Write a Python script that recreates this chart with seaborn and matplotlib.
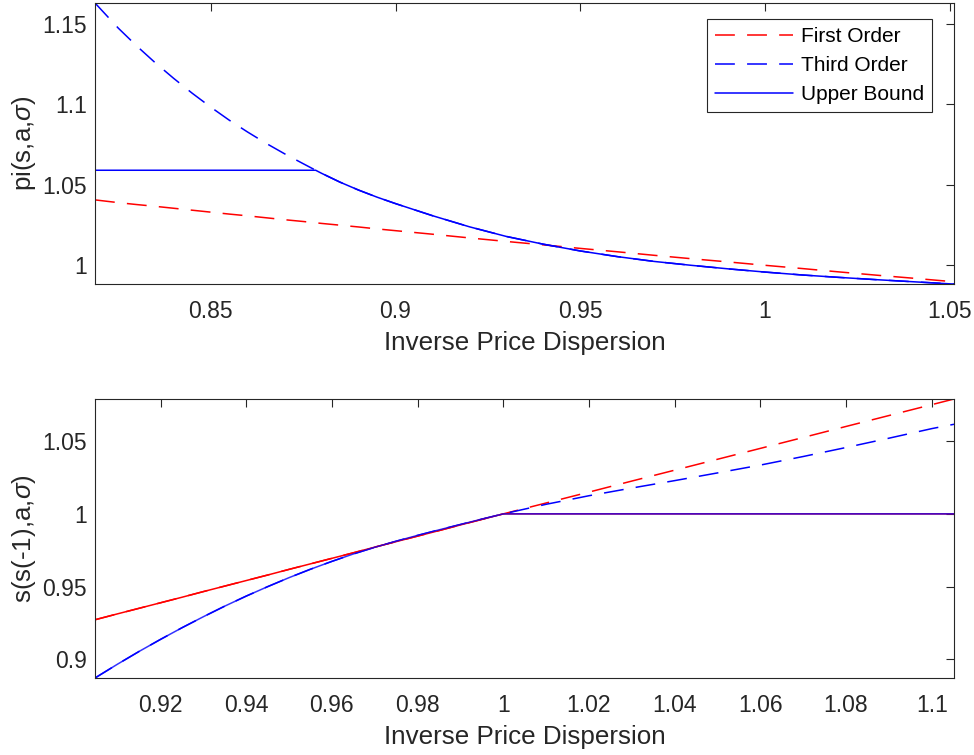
import matplotlib
matplotlib.use("Agg")
import matplotlib.pyplot as plt
import seaborn as sns
import numpy as np

# ---------------- data ----------------
top_x = [0.8187, 0.825, 0.83, 0.835, 0.84, 0.845, 0.85, 0.855, 0.86, 0.865,
         0.87, 0.875, 0.8784, 0.88, 0.885, 0.89, 0.895, 0.90, 0.91, 0.92,
         0.93, 0.94, 0.95, 0.96, 0.97, 0.98, 0.99, 1.00, 1.01, 1.02,
         1.03, 1.04, 1.05, 1.0511]
top_first = [1.0406, 1.0389, 1.0377, 1.0366, 1.0354, 1.0342, 1.0330, 1.0318, 1.0307, 1.0295,
             1.0283, 1.0272, 1.0264, 1.0260, 1.0249, 1.0238, 1.0226, 1.0215, 1.0193, 1.0170,
             1.0148, 1.0127, 1.0105, 1.0084, 1.0062, 1.0041, 1.0021, 1.0000, 0.9980, 0.9959,
             0.9939, 0.9920, 0.9900, 0.9898]
top_third = [1.1628, 1.1472, 1.1361, 1.1257, 1.1160, 1.1068, 1.0982, 1.0901, 1.0827, 1.0757,
             1.0692, 1.0631, 1.0590, 1.0571, 1.0516, 1.0467, 1.0423, 1.0383, 1.0308, 1.0239,
             1.0179, 1.0131, 1.0089, 1.0054, 1.0024, 1.0000, 0.9978, 0.9958, 0.9940, 0.9925,
             0.9911, 0.9898, 0.9885, 0.9884]
top_upper = [1.0590, 1.0590, 1.0590, 1.0590, 1.0590, 1.0590, 1.0590, 1.0590, 1.0590, 1.0590,
             1.0590, 1.0590, 1.0590, 1.0571, 1.0516, 1.0467, 1.0423, 1.0383, 1.0308, 1.0239,
             1.0179, 1.0131, 1.0089, 1.0054, 1.0024, 1.0000, 0.9978, 0.9958, 0.9940, 0.9925,
             0.9911, 0.9898, 0.9885, 0.9884]

bot_x = [0.9047, 0.91, 0.915, 0.92, 0.925, 0.93, 0.935, 0.94, 0.945, 0.95,
         0.955, 0.96, 0.965, 0.97, 0.975, 0.98, 0.985, 0.99, 0.995, 1.00,
         1.01, 1.02, 1.03, 1.04, 1.05, 1.06, 1.07, 1.08, 1.09, 1.10, 1.1052]
bot_first = [0.9271, 0.9312, 0.9350, 0.9388, 0.9426, 0.9465, 0.9503, 0.9541, 0.9579, 0.9618,
             0.9656, 0.9694, 0.9732, 0.9771, 0.9809, 0.9847, 0.9885, 0.9924, 0.9962, 1.0000,
             1.0075, 1.0150, 1.0226, 1.0301, 1.0376, 1.0451, 1.0526, 1.0602, 1.0677, 1.0752, 1.0791]
bot_third = [0.8870, 0.8966, 0.9053, 0.9136, 0.9216, 0.9292, 0.9365, 0.9434, 0.9499, 0.9561,
             0.9619, 0.9673, 0.9724, 0.9770, 0.9812, 0.9852, 0.9890, 0.9927, 0.9964, 1.0000,
             1.0066, 1.0125, 1.0178, 1.0229, 1.0282, 1.0336, 1.0395, 1.0457, 1.0521, 1.0587, 1.0617]
bot_first_bound = [0.9271, 0.9312, 0.9350, 0.9388, 0.9426, 0.9465, 0.9503, 0.9541, 0.9579, 0.9618,
                   0.9656, 0.9694, 0.9732, 0.9771, 0.9809, 0.9847, 0.9885, 0.9924, 0.9962, 1.0000,
                   1.0, 1.0, 1.0, 1.0, 1.0, 1.0, 1.0, 1.0, 1.0, 1.0, 1.0]
bot_third_bound = [0.8870, 0.8966, 0.9053, 0.9136, 0.9216, 0.9292, 0.9365, 0.9434, 0.9499, 0.9561,
                   0.9619, 0.9673, 0.9724, 0.9770, 0.9812, 0.9852, 0.9890, 0.9927, 0.9964, 1.0000,
                   1.0, 1.0, 1.0, 1.0, 1.0, 1.0, 1.0, 1.0, 1.0, 1.0, 1.0]

top_xticks = [0.85, 0.9, 0.95, 1.0, 1.05]
top_xticklabels = ["0.85", "0.9", "0.95", "1", "1.05"]
top_yticks = [1.0, 1.05, 1.1, 1.15]
top_yticklabels = ["1", "1.05", "1.1", "1.15"]
bot_xticks = [0.92, 0.94, 0.96, 0.98, 1.0, 1.02, 1.04, 1.06, 1.08, 1.1]
bot_xticklabels = ["0.92", "0.94", "0.96", "0.98", "1", "1.02", "1.04", "1.06", "1.08", "1.1"]
bot_yticks = [0.9, 0.95, 1.0, 1.05]
bot_yticklabels = ["0.9", "0.95", "1", "1.05"]
legend_labels = ["First Order", "Third Order", "Upper Bound"]

# ---------------- style ----------------
sns.set_theme(style="white")
TXT = "#262626"
plt.rcParams["font.family"] = ["Liberation Sans", "DejaVu Sans"]
plt.rcParams["mathtext.fontset"] = "custom"
plt.rcParams["mathtext.it"] = "Liberation Sans:italic"
plt.rcParams["mathtext.rm"] = "Liberation Sans"
plt.rcParams["text.color"] = TXT
plt.rcParams["axes.labelcolor"] = TXT
plt.rcParams["xtick.color"] = TXT
plt.rcParams["ytick.color"] = TXT

TICK_FS = 16.5
LABEL_FS = 18.7
LEG_FS = 15
LW = 1.1
DASH = (0, (13, 8))

fig = plt.figure(figsize=(9.74, 7.55), dpi=100)
ax1 = fig.add_axes([95 / 974, 1 - 284 / 755, 859 / 974, 281 / 755])
ax2 = fig.add_axes([95 / 974, 1 - 678 / 755, 859 / 974, 279 / 755])

# top panel
sns.lineplot(x=top_x, y=top_first, ax=ax1, color="#ff0000", linestyle=DASH, linewidth=LW,
             legend=False, sort=False, estimator=None)
sns.lineplot(x=top_x, y=top_third, ax=ax1, color="#0000ff", linestyle=DASH, linewidth=LW,
             legend=False, sort=False, estimator=None)
sns.lineplot(x=top_x, y=top_upper, ax=ax1, color="#0000ff", linestyle="-", linewidth=LW,
             legend=False, sort=False, estimator=None)

# bottom panel
sns.lineplot(x=bot_x, y=bot_first, ax=ax2, color="#ff0000", linestyle=DASH, linewidth=LW,
             legend=False, sort=False, estimator=None)
sns.lineplot(x=bot_x, y=bot_third, ax=ax2, color="#0000ff", linestyle=DASH, linewidth=LW,
             legend=False, sort=False, estimator=None)
sns.lineplot(x=bot_x, y=bot_first_bound, ax=ax2, color="#ff0000", linestyle="-", linewidth=LW,
             legend=False, sort=False, estimator=None)
sns.lineplot(x=bot_x, y=bot_third_bound, ax=ax2, color="#0000ff", linestyle="-", linewidth=LW,
             alpha=0.8, legend=False, sort=False, estimator=None)

for ax, xs, ys_all, xt, xtl, yt, ytl, ylab in [
    (ax1, top_x, top_first + top_third + top_upper, top_xticks, top_xticklabels,
     top_yticks, top_yticklabels, r"pi(s,a,$\sigma$)"),
    (ax2, bot_x, bot_first + bot_third + bot_first_bound + bot_third_bound, bot_xticks,
     bot_xticklabels, bot_yticks, bot_yticklabels, r"s(s(-1),a,$\sigma$)"),
]:
    ax.set_xlim(min(xs), max(xs))
    ax.set_ylim(min(ys_all), max(ys_all))
    ax.set_xticks(xt)
    ax.set_xticklabels(xtl)
    ax.set_yticks(yt)
    ax.set_yticklabels(ytl)
    ax.tick_params(axis="both", direction="in", length=6, width=0.8, colors=TXT,
                   labelsize=TICK_FS, top=True, right=True)
    ax.tick_params(axis="x", pad=11.5)
    ax.tick_params(axis="y", pad=6)
    for sp in ax.spines.values():
        sp.set_visible(True)
        sp.set_color(TXT)
        sp.set_linewidth(0.8)
    ax.set_xlabel("Inverse Price Dispersion", fontsize=LABEL_FS, labelpad=6)
    ax.set_ylabel(ylab, fontsize=LABEL_FS, labelpad=3)
    ax.grid(False)
    ax.set_facecolor("white")

handles = ax1.get_lines()[:3]
leg = ax1.legend(handles, legend_labels, loc="upper right",
                 bbox_to_anchor=((932 - 95) / 859, (284 - 19) / 281),
                 borderaxespad=0, fontsize=LEG_FS, frameon=True, fancybox=False,
                 edgecolor=TXT, framealpha=1, handlelength=3.75, handletextpad=0.35,
                 labelspacing=0.47, borderpad=0.4)
leg.get_frame().set_linewidth(0.8)
for t in leg.get_texts():
    t.set_color("black")

fig.savefig("out.png", dpi=100, facecolor="white")
